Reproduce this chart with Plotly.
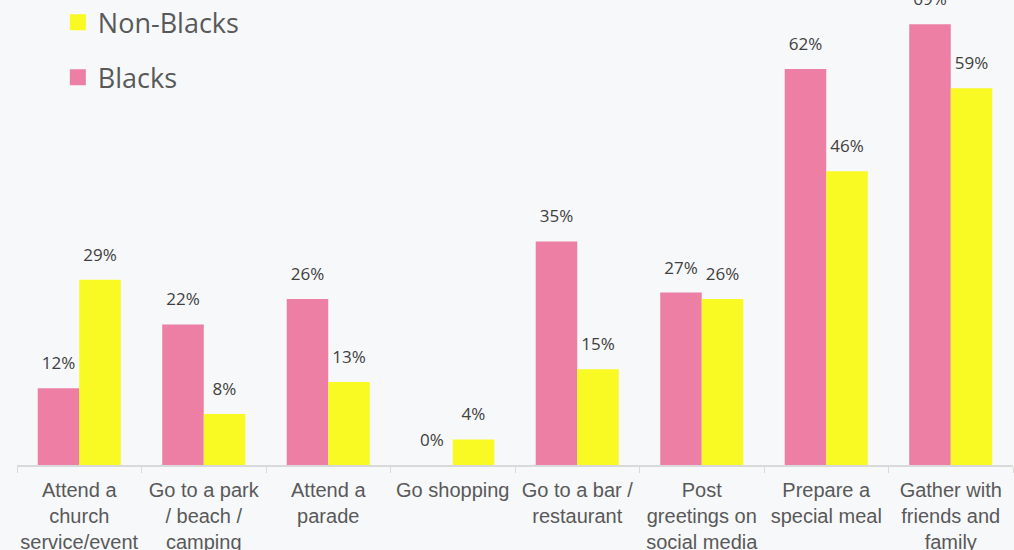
import plotly.graph_objects as go

# Data
categories = [
    "Attend a<br>church<br>service/event",
    "Go to a park<br>/ beach /<br>camping",
    "Attend a<br>parade",
    "Go shopping",
    "Go to a bar /<br>restaurant",
    "Post<br>greetings on<br>social media",
    "Prepare a<br>special meal",
    "Gather with<br>friends and<br>family",
]
blacks = [12, 22, 26, 0, 35, 27, 62, 69]
non_blacks = [29, 8, 13, 4, 15, 26, 46, 59]

PINK = "#EC7FA3"
YELLOW = "#F9F923"
BG = "#F7F8FA"

fig = go.Figure()

series = [("Blacks", blacks, PINK), ("Non-Blacks", non_blacks, YELLOW)]

for name, vals, color in series:
    fig.add_trace(go.Bar(
        x=categories, y=vals, name=name,
        marker=dict(color=color, line=dict(width=0)),
        showlegend=False, hoverinfo="skip",
    ))

# value labels, grouped like the bars and lifted a bit above them
for name, vals, color in series:
    fig.add_trace(go.Scatter(
        x=categories, y=vals, mode="markers+text",
        text=[f"{v}%" for v in vals], textposition="top center",
        textfont=dict(family="Open Sans", size=17, color="#404040"),
        marker=dict(size=22, opacity=0),
        cliponaxis=False, showlegend=False, hoverinfo="skip",
    ))

# legend entries with larger square swatches (separate hidden axes)
for name, color in [("Non-Blacks", YELLOW), ("Blacks", PINK)]:
    fig.add_trace(go.Scatter(
        x=[None], y=[None], mode="markers", name=name, legendgroup=name,
        marker=dict(symbol="square", size=18, color=color),
        xaxis="x2", yaxis="y2",
    ))

fig.update_layout(
    width=1014, height=550,
    barmode="group", bargap=0.333, bargroupgap=0,
    scattermode="group", scattergap=0.333,
    paper_bgcolor=BG, plot_bgcolor=BG,
    margin=dict(l=17, r=1, t=0, b=85, autoexpand=False),
    showlegend=True,
    legend=dict(
        x=0.041, y=1.004, xanchor="left", yanchor="top",
        traceorder="grouped", tracegroupgap=17, itemsizing="trace",
        font=dict(family="Open Sans", size=27, color="#595959"),
        bgcolor="rgba(0,0,0,0)",
    ),
    xaxis=dict(
        showgrid=False, zeroline=False, automargin=False, tickangle=0,
        showline=True, linecolor="#D9D9D9", linewidth=1.5,
        ticks="outside", tickson="boundaries", ticklen=6, tickcolor="#D9D9D9",
        ticklabelstandoff=6,
        tickfont=dict(family="Liberation Sans", size=20, color="#595959"),
    ),
    yaxis=dict(
        range=[0, 72.8], visible=False, showgrid=False, zeroline=False,
        automargin=False,
    ),
    xaxis2=dict(visible=False, overlaying="x"),
    yaxis2=dict(visible=False, overlaying="y"),
)

fig.write_html(
    "out.html",
    config={"displayModeBar": False},
    post_script="document.body.style.margin='0';document.body.style.overflow='hidden';",
)
